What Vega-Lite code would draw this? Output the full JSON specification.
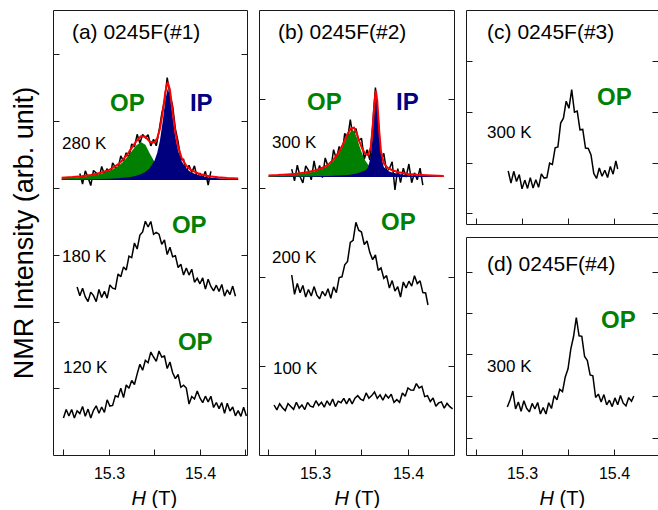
{
  "$schema": "https://vega.github.io/schema/vega-lite/v6.json",
  "autosize": {"type": "pad"},
  "padding": {"left": 10, "top": 10, "right": 0, "bottom": 0},
  "background": "white",
  "config": {
    "view": {"stroke": null},
    "font": "Liberation Sans",
    "line": {"strokeJoin": "miter", "strokeMiterLimit": 2},
    "axis": {
      "grid": false, "domainColor": "#1a1a1a", "domainWidth": 1, "tickColor": "#1a1a1a", "tickWidth": 1,
      "tickSize": -6, "labelFont": "Liberation Sans", "labelFontSize": 16, "labelColor": "#000",
      "labelPadding": 16, "labelOverlap": false, "labelFlush": false,
      "titleFont": "Liberation Sans", "titleFontWeight": "normal", "titleColor": "#000", "titleFontSize": 20
    },
    "style": {
      "tag": {"fontSize": 17, "align": "left", "baseline": "middle", "font": "Liberation Sans"},
      "hd": {"fontSize": 21, "align": "left", "baseline": "middle", "font": "Liberation Sans"},
      "big": {"fontSize": 24, "fontWeight": "bold", "align": "left", "baseline": "middle", "font": "Liberation Sans"}
    }
  },
  "datasets": {
    "spA": [
      {"T":"280","h":15.268,"v":28.15},{"T":"280","h":15.271,"v":27.1},{"T":"280","h":15.274,"v":28.42},{"T":"280","h":15.277,"v":27.76},{"T":"280","h":15.280,"v":26.95},{"T":"280","h":15.283,"v":28.45},{"T":"280","h":15.286,"v":28.21},{"T":"280","h":15.289,"v":27.67},{"T":"280","h":15.292,"v":28.85},{"T":"280","h":15.295,"v":28.04},{"T":"280","h":15.298,"v":28.64},{"T":"280","h":15.301,"v":27.7},{"T":"280","h":15.304,"v":29.22},{"T":"280","h":15.307,"v":28.79},{"T":"280","h":15.310,"v":28.66},{"T":"280","h":15.313,"v":29.92},{"T":"280","h":15.316,"v":29.39},{"T":"280","h":15.319,"v":30.22},{"T":"280","h":15.322,"v":29.76},{"T":"280","h":15.325,"v":31.11},{"T":"280","h":15.328,"v":30.81},{"T":"280","h":15.331,"v":32.07},{"T":"280","h":15.334,"v":31.17},{"T":"280","h":15.337,"v":32.05},{"T":"280","h":15.340,"v":31.72},{"T":"280","h":15.343,"v":32.03},{"T":"280","h":15.346,"v":30.91},{"T":"280","h":15.349,"v":31.56},{"T":"280","h":15.352,"v":30.92},{"T":"280","h":15.355,"v":32.4},{"T":"280","h":15.358,"v":34.1},{"T":"280","h":15.361,"v":35.4},{"T":"280","h":15.364,"v":37.75},{"T":"280","h":15.367,"v":36.03},{"T":"280","h":15.370,"v":34.89},{"T":"280","h":15.373,"v":32.6},{"T":"280","h":15.376,"v":31.31},{"T":"280","h":15.379,"v":29.55},{"T":"280","h":15.382,"v":29.58},{"T":"280","h":15.385,"v":28.32},{"T":"280","h":15.388,"v":28.97},{"T":"280","h":15.391,"v":28.26},{"T":"280","h":15.394,"v":28.91},{"T":"280","h":15.397,"v":27.69},{"T":"280","h":15.400,"v":28.18},{"T":"280","h":15.403,"v":27.72},{"T":"280","h":15.406,"v":28.36},{"T":"280","h":15.409,"v":27.0},{"T":"280","h":15.412,"v":28.36},
      {"T":"180","h":15.265,"v":16.8},{"T":"180","h":15.268,"v":15.93},{"T":"180","h":15.271,"v":16.67},{"T":"180","h":15.274,"v":15.8},{"T":"180","h":15.277,"v":15.35},{"T":"180","h":15.280,"v":16.29},{"T":"180","h":15.283,"v":15.94},{"T":"180","h":15.286,"v":15.34},{"T":"180","h":15.289,"v":16.55},{"T":"180","h":15.292,"v":15.75},{"T":"180","h":15.295,"v":16.36},{"T":"180","h":15.298,"v":15.69},{"T":"180","h":15.301,"v":17.0},{"T":"180","h":15.304,"v":16.68},{"T":"180","h":15.307,"v":16.6},{"T":"180","h":15.310,"v":18.11},{"T":"180","h":15.313,"v":17.83},{"T":"180","h":15.316,"v":18.81},{"T":"180","h":15.319,"v":18.49},{"T":"180","h":15.322,"v":19.89},{"T":"180","h":15.325,"v":19.74},{"T":"180","h":15.328,"v":21.2},{"T":"180","h":15.331,"v":20.6},{"T":"180","h":15.334,"v":22.0},{"T":"180","h":15.337,"v":22.3},{"T":"180","h":15.340,"v":23.37},{"T":"180","h":15.343,"v":22.8},{"T":"180","h":15.346,"v":23.35},{"T":"180","h":15.349,"v":22.07},{"T":"180","h":15.352,"v":22.27},{"T":"180","h":15.355,"v":22.09},{"T":"180","h":15.358,"v":21.07},{"T":"180","h":15.361,"v":21.5},{"T":"180","h":15.364,"v":20.04},{"T":"180","h":15.367,"v":20.78},{"T":"180","h":15.370,"v":19.82},{"T":"180","h":15.373,"v":19.93},{"T":"180","h":15.376,"v":18.75},{"T":"180","h":15.379,"v":19.07},{"T":"180","h":15.382,"v":17.99},{"T":"180","h":15.385,"v":18.7},{"T":"180","h":15.388,"v":17.99},{"T":"180","h":15.391,"v":18.58},{"T":"180","h":15.394,"v":17.28},{"T":"180","h":15.397,"v":17.67},{"T":"180","h":15.400,"v":17.12},{"T":"180","h":15.403,"v":17.71},{"T":"180","h":15.406,"v":16.59},{"T":"180","h":15.409,"v":17.58},{"T":"180","h":15.412,"v":16.85},{"T":"180","h":15.415,"v":16.42},{"T":"180","h":15.418,"v":16.98},{"T":"180","h":15.421,"v":16.35},{"T":"180","h":15.424,"v":17.06},{"T":"180","h":15.427,"v":15.89},{"T":"180","h":15.430,"v":16.52},{"T":"180","h":15.433,"v":16.04},{"T":"180","h":15.436,"v":16.89},{"T":"180","h":15.439,"v":15.87},
      {"T":"120","h":15.250,"v":3.7},{"T":"120","h":15.253,"v":4.55},{"T":"120","h":15.256,"v":3.9},{"T":"120","h":15.259,"v":4.55},{"T":"120","h":15.262,"v":3.7},{"T":"120","h":15.265,"v":4.42},{"T":"120","h":15.268,"v":4.14},{"T":"120","h":15.271,"v":4.85},{"T":"120","h":15.274,"v":3.87},{"T":"120","h":15.277,"v":4.59},{"T":"120","h":15.280,"v":3.7},{"T":"120","h":15.283,"v":4.47},{"T":"120","h":15.286,"v":4.92},{"T":"120","h":15.289,"v":4.18},{"T":"120","h":15.292,"v":4.8},{"T":"120","h":15.295,"v":4.26},{"T":"120","h":15.298,"v":5.52},{"T":"120","h":15.301,"v":4.89},{"T":"120","h":15.304,"v":4.96},{"T":"120","h":15.307,"v":5.93},{"T":"120","h":15.310,"v":5.8},{"T":"120","h":15.313,"v":6.67},{"T":"120","h":15.316,"v":5.74},{"T":"120","h":15.319,"v":7.0},{"T":"120","h":15.322,"v":6.67},{"T":"120","h":15.325,"v":7.45},{"T":"120","h":15.328,"v":7.05},{"T":"120","h":15.331,"v":8.11},{"T":"120","h":15.334,"v":9.08},{"T":"120","h":15.337,"v":8.48},{"T":"120","h":15.340,"v":9.46},{"T":"120","h":15.343,"v":9.23},{"T":"120","h":15.346,"v":10.3},{"T":"120","h":15.349,"v":9.8},{"T":"120","h":15.352,"v":9.36},{"T":"120","h":15.355,"v":10.4},{"T":"120","h":15.358,"v":9.8},{"T":"120","h":15.361,"v":9.9},{"T":"120","h":15.364,"v":8.65},{"T":"120","h":15.367,"v":9.3},{"T":"120","h":15.370,"v":8.23},{"T":"120","h":15.373,"v":7.64},{"T":"120","h":15.376,"v":8.05},{"T":"120","h":15.379,"v":6.77},{"T":"120","h":15.382,"v":6.98},{"T":"120","h":15.385,"v":6.7},{"T":"120","h":15.388,"v":5.1},{"T":"120","h":15.391,"v":5.85},{"T":"120","h":15.394,"v":5.6},{"T":"120","h":15.397,"v":6.4},{"T":"120","h":15.400,"v":5.7},{"T":"120","h":15.403,"v":5.24},{"T":"120","h":15.406,"v":5.88},{"T":"120","h":15.409,"v":5.32},{"T":"120","h":15.412,"v":5.87},{"T":"120","h":15.415,"v":4.75},{"T":"120","h":15.418,"v":5.25},{"T":"120","h":15.421,"v":4.64},{"T":"120","h":15.424,"v":5.24},{"T":"120","h":15.427,"v":4.16},{"T":"120","h":15.430,"v":5.18},{"T":"120","h":15.433,"v":4.4},{"T":"120","h":15.436,"v":4.8},{"T":"120","h":15.439,"v":3.92},{"T":"120","h":15.442,"v":4.44},{"T":"120","h":15.445,"v":3.86},{"T":"120","h":15.448,"v":4.77},{"T":"120","h":15.451,"v":3.9}
    ],
    "fitA": [
      {"h":15.248,"op":27.68,"ip":27.54,"sum":27.72},{"h":15.26,"op":27.74,"ip":27.55,"sum":27.79},{"h":15.27,"op":27.81,"ip":27.56,"sum":27.87},{"h":15.28,"op":27.92,"ip":27.58,"sum":28.0},{"h":15.29,"op":28.09,"ip":27.6,"sum":28.19},{"h":15.3,"op":28.37,"ip":27.63,"sum":28.5},{"h":15.31,"op":28.88,"ip":27.68,"sum":29.06},{"h":15.315,"op":29.27,"ip":27.72,"sum":29.49},{"h":15.32,"op":29.77,"ip":27.76,"sum":30.03},{"h":15.325,"op":30.38,"ip":27.83,"sum":30.71},{"h":15.33,"op":30.95,"ip":27.92,"sum":31.37},{"h":15.335,"op":31.3,"ip":28.07,"sum":31.87},{"h":15.34,"op":31.02,"ip":28.3,"sum":31.82},{"h":15.345,"op":30.13,"ip":28.7,"sum":31.33},{"h":15.35,"op":29.32,"ip":29.43,"sum":31.25},{"h":15.353,"op":28.96,"ip":30.2,"sum":31.66},{"h":15.356,"op":28.67,"ip":31.45,"sum":32.62},{"h":15.359,"op":28.45,"ip":33.3,"sum":34.25},{"h":15.362,"op":28.29,"ip":35.52,"sum":36.31},{"h":15.3645,"op":28.18,"ip":36.62,"sum":37.3},{"h":15.367,"op":28.09,"ip":35.94,"sum":36.53},{"h":15.37,"op":28.0,"ip":33.79,"sum":34.29},{"h":15.373,"op":27.93,"ip":31.8,"sum":32.23},{"h":15.376,"op":27.88,"ip":30.43,"sum":30.81},{"h":15.38,"op":27.82,"ip":29.36,"sum":29.68},{"h":15.385,"op":27.76,"ip":28.66,"sum":28.92},{"h":15.39,"op":27.72,"ip":28.28,"sum":28.5},{"h":15.4,"op":27.66,"ip":27.92,"sum":28.08},{"h":15.41,"op":27.62,"ip":27.76,"sum":27.88},{"h":15.42,"op":27.59,"ip":27.68,"sum":27.77},{"h":15.43,"op":27.58,"ip":27.63,"sum":27.7},{"h":15.442,"op":27.56,"ip":27.59,"sum":27.65}
    ],
    "spB": [
      {"T":"300","h":15.275,"v":28.59},{"T":"300","h":15.278,"v":27.41},{"T":"300","h":15.281,"v":28.98},{"T":"300","h":15.284,"v":27.83},{"T":"300","h":15.287,"v":27.2},{"T":"300","h":15.290,"v":28.92},{"T":"300","h":15.293,"v":28.47},{"T":"300","h":15.296,"v":27.51},{"T":"300","h":15.299,"v":29.42},{"T":"300","h":15.302,"v":28.01},{"T":"300","h":15.305,"v":28.96},{"T":"300","h":15.308,"v":27.73},{"T":"300","h":15.311,"v":29.71},{"T":"300","h":15.314,"v":28.87},{"T":"300","h":15.317,"v":28.57},{"T":"300","h":15.320,"v":30.54},{"T":"300","h":15.323,"v":29.58},{"T":"300","h":15.326,"v":30.86},{"T":"300","h":15.329,"v":30.03},{"T":"300","h":15.332,"v":32.16},{"T":"300","h":15.335,"v":31.6},{"T":"300","h":15.338,"v":33.53},{"T":"300","h":15.341,"v":31.71},{"T":"300","h":15.344,"v":32.66},{"T":"300","h":15.347,"v":31.4},{"T":"300","h":15.350,"v":31.68},{"T":"300","h":15.353,"v":29.58},{"T":"300","h":15.356,"v":30.53},{"T":"300","h":15.359,"v":29.5},{"T":"300","h":15.362,"v":32.88},{"T":"300","h":15.365,"v":36.75},{"T":"300","h":15.368,"v":33.6},{"T":"300","h":15.371,"v":29.49},{"T":"300","h":15.374,"v":30.17},{"T":"300","h":15.377,"v":28.34},{"T":"300","h":15.380,"v":28.63},{"T":"300","h":15.383,"v":29.33},{"T":"300","h":15.386,"v":26.5},{"T":"300","h":15.389,"v":28.64},{"T":"300","h":15.392,"v":27.24},{"T":"300","h":15.395,"v":28.69},{"T":"300","h":15.398,"v":27.8},{"T":"300","h":15.401,"v":29.1},{"T":"300","h":15.404,"v":27.23},{"T":"300","h":15.407,"v":28.21},{"T":"300","h":15.410,"v":27.52},{"T":"300","h":15.413,"v":28.68},{"T":"300","h":15.416,"v":26.99},
      {"T":"200","h":15.275,"v":18.0},{"T":"200","h":15.278,"v":16.07},{"T":"200","h":15.281,"v":17.15},{"T":"200","h":15.284,"v":16.22},{"T":"200","h":15.287,"v":16.96},{"T":"200","h":15.290,"v":15.8},{"T":"200","h":15.293,"v":16.55},{"T":"200","h":15.296,"v":15.9},{"T":"200","h":15.299,"v":16.84},{"T":"200","h":15.302,"v":15.99},{"T":"200","h":15.305,"v":15.63},{"T":"200","h":15.308,"v":16.37},{"T":"200","h":15.311,"v":15.91},{"T":"200","h":15.314,"v":16.63},{"T":"200","h":15.317,"v":15.67},{"T":"200","h":15.320,"v":16.81},{"T":"200","h":15.323,"v":16.24},{"T":"200","h":15.326,"v":17.74},{"T":"200","h":15.329,"v":17.82},{"T":"200","h":15.332,"v":19.02},{"T":"200","h":15.335,"v":19.36},{"T":"200","h":15.338,"v":21.27},{"T":"200","h":15.341,"v":21.47},{"T":"200","h":15.344,"v":23.27},{"T":"200","h":15.347,"v":22.48},{"T":"200","h":15.350,"v":22.3},{"T":"200","h":15.353,"v":21.05},{"T":"200","h":15.356,"v":21.4},{"T":"200","h":15.359,"v":20.24},{"T":"200","h":15.362,"v":19.54},{"T":"200","h":15.365,"v":20.0},{"T":"200","h":15.368,"v":18.46},{"T":"200","h":15.371,"v":18.71},{"T":"200","h":15.374,"v":17.67},{"T":"200","h":15.377,"v":17.94},{"T":"200","h":15.380,"v":16.69},{"T":"200","h":15.383,"v":17.44},{"T":"200","h":15.386,"v":16.39},{"T":"200","h":15.389,"v":16.83},{"T":"200","h":15.392,"v":15.8},{"T":"200","h":15.395,"v":17.3},{"T":"200","h":15.398,"v":16.7},{"T":"200","h":15.401,"v":17.38},{"T":"200","h":15.404,"v":16.89},{"T":"200","h":15.407,"v":17.92},{"T":"200","h":15.410,"v":17.14},{"T":"200","h":15.413,"v":17.41},{"T":"200","h":15.416,"v":16.24},{"T":"200","h":15.419,"v":16.2},{"T":"200","h":15.4215,"v":15.0},
      {"T":"100","h":15.256,"v":5.0},{"T":"100","h":15.259,"v":4.51},{"T":"100","h":15.262,"v":5.12},{"T":"100","h":15.265,"v":4.73},{"T":"100","h":15.268,"v":4.44},{"T":"100","h":15.271,"v":5.15},{"T":"100","h":15.274,"v":4.86},{"T":"100","h":15.277,"v":4.57},{"T":"100","h":15.280,"v":5.28},{"T":"100","h":15.283,"v":4.69},{"T":"100","h":15.286,"v":5.01},{"T":"100","h":15.289,"v":4.54},{"T":"100","h":15.292,"v":5.26},{"T":"100","h":15.295,"v":4.88},{"T":"100","h":15.298,"v":4.8},{"T":"100","h":15.301,"v":5.43},{"T":"100","h":15.304,"v":4.95},{"T":"100","h":15.307,"v":5.27},{"T":"100","h":15.310,"v":4.79},{"T":"100","h":15.313,"v":5.42},{"T":"100","h":15.316,"v":4.96},{"T":"100","h":15.319,"v":5.6},{"T":"100","h":15.322,"v":4.84},{"T":"100","h":15.325,"v":5.38},{"T":"100","h":15.328,"v":5.23},{"T":"100","h":15.331,"v":5.67},{"T":"100","h":15.334,"v":5.11},{"T":"100","h":15.337,"v":5.67},{"T":"100","h":15.340,"v":5.12},{"T":"100","h":15.343,"v":5.68},{"T":"100","h":15.346,"v":5.93},{"T":"100","h":15.349,"v":5.59},{"T":"100","h":15.352,"v":5.45},{"T":"100","h":15.355,"v":6.21},{"T":"100","h":15.358,"v":5.68},{"T":"100","h":15.361,"v":5.94},{"T":"100","h":15.364,"v":6.3},{"T":"100","h":15.367,"v":5.66},{"T":"100","h":15.370,"v":6.02},{"T":"100","h":15.373,"v":5.48},{"T":"100","h":15.376,"v":6.03},{"T":"100","h":15.379,"v":5.69},{"T":"100","h":15.382,"v":6.07},{"T":"100","h":15.385,"v":5.26},{"T":"100","h":15.388,"v":5.54},{"T":"100","h":15.391,"v":5.26},{"T":"100","h":15.394,"v":6.2},{"T":"100","h":15.397,"v":5.87},{"T":"100","h":15.400,"v":6.7},{"T":"100","h":15.403,"v":6.49},{"T":"100","h":15.406,"v":6.47},{"T":"100","h":15.409,"v":7.14},{"T":"100","h":15.412,"v":6.71},{"T":"100","h":15.415,"v":6.86},{"T":"100","h":15.418,"v":5.84},{"T":"100","h":15.421,"v":5.93},{"T":"100","h":15.424,"v":5.35},{"T":"100","h":15.427,"v":5.7},{"T":"100","h":15.430,"v":4.87},{"T":"100","h":15.433,"v":5.21},{"T":"100","h":15.436,"v":5.3},{"T":"100","h":15.439,"v":4.68},{"T":"100","h":15.442,"v":5.16},{"T":"100","h":15.445,"v":4.83},{"T":"100","h":15.448,"v":4.61}
    ],
    "fitB": [
      {"h":15.25,"op":27.93,"ip":27.83,"sum":27.96},{"h":15.26,"op":27.96,"ip":27.84,"sum":27.99},{"h":15.27,"op":28.0,"ip":27.85,"sum":28.05},{"h":15.28,"op":28.07,"ip":27.85,"sum":28.12},{"h":15.29,"op":28.18,"ip":27.86,"sum":28.24},{"h":15.3,"op":28.36,"ip":27.88,"sum":28.44},{"h":15.31,"op":28.7,"ip":27.9,"sum":28.8},{"h":15.315,"op":28.99,"ip":27.91,"sum":29.1},{"h":15.32,"op":29.41,"ip":27.93,"sum":29.54},{"h":15.325,"op":30.04,"ip":27.94,"sum":30.18},{"h":15.33,"op":30.89,"ip":27.97,"sum":31.06},{"h":15.335,"op":31.89,"ip":28.01,"sum":32.1},{"h":15.339,"op":32.43,"ip":28.05,"sum":32.68},{"h":15.342,"op":32.43,"ip":28.1,"sum":32.73},{"h":15.345,"op":31.76,"ip":28.16,"sum":32.12},{"h":15.348,"op":30.86,"ip":28.24,"sum":31.3},{"h":15.351,"op":30.05,"ip":28.34,"sum":30.59},{"h":15.354,"op":29.46,"ip":28.46,"sum":30.12},{"h":15.357,"op":29.04,"ip":28.75,"sum":29.99},{"h":15.36,"op":28.76,"ip":29.8,"sum":30.76},{"h":15.362,"op":28.61,"ip":31.9,"sum":32.71},{"h":15.364,"op":28.5,"ip":34.6,"sum":35.3},{"h":15.3655,"op":28.43,"ip":35.8,"sum":36.43},{"h":15.367,"op":28.37,"ip":34.8,"sum":35.37},{"h":15.369,"op":28.3,"ip":32.0,"sum":32.5},{"h":15.371,"op":28.24,"ip":29.9,"sum":30.34},{"h":15.374,"op":28.17,"ip":28.8,"sum":29.17},{"h":15.378,"op":28.1,"ip":28.43,"sum":28.73},{"h":15.383,"op":28.04,"ip":28.24,"sum":28.48},{"h":15.39,"op":27.98,"ip":28.1,"sum":28.28},{"h":15.4,"op":27.92,"ip":27.98,"sum":28.1},{"h":15.41,"op":27.89,"ip":27.93,"sum":28.02},{"h":15.42,"op":27.87,"ip":27.9,"sum":27.97},{"h":15.4385,"op":27.85,"ip":27.86,"sum":27.91}
    ],
    "spC": [
      {"T":"300","h":15.285,"v":5.3},{"T":"300","h":15.288,"v":4.08},{"T":"300","h":15.291,"v":5.27},{"T":"300","h":15.294,"v":4.25},{"T":"300","h":15.297,"v":4.94},{"T":"300","h":15.300,"v":3.51},{"T":"300","h":15.303,"v":4.39},{"T":"300","h":15.306,"v":3.56},{"T":"300","h":15.309,"v":4.64},{"T":"300","h":15.312,"v":3.59},{"T":"300","h":15.315,"v":4.43},{"T":"300","h":15.318,"v":3.67},{"T":"300","h":15.321,"v":5.02},{"T":"300","h":15.324,"v":4.59},{"T":"300","h":15.327,"v":4.64},{"T":"300","h":15.330,"v":6.08},{"T":"300","h":15.333,"v":5.95},{"T":"300","h":15.336,"v":7.62},{"T":"300","h":15.339,"v":7.71},{"T":"300","h":15.342,"v":10.09},{"T":"300","h":15.345,"v":10.58},{"T":"300","h":15.348,"v":12.28},{"T":"300","h":15.351,"v":11.57},{"T":"300","h":15.354,"v":13.44},{"T":"300","h":15.357,"v":11.18},{"T":"300","h":15.360,"v":11.29},{"T":"300","h":15.363,"v":9.42},{"T":"300","h":15.366,"v":9.46},{"T":"300","h":15.369,"v":7.59},{"T":"300","h":15.372,"v":7.56},{"T":"300","h":15.375,"v":6.9},{"T":"300","h":15.378,"v":5.06},{"T":"300","h":15.381,"v":4.55},{"T":"300","h":15.384,"v":5.6},{"T":"300","h":15.387,"v":4.78},{"T":"300","h":15.390,"v":5.37},{"T":"300","h":15.393,"v":4.65},{"T":"300","h":15.396,"v":5.76},{"T":"300","h":15.399,"v":4.98},{"T":"300","h":15.402,"v":6.32},{"T":"300","h":15.404,"v":5.5}
    ],
    "spD": [
      {"T":"300","h":15.284,"v":4.8},{"T":"300","h":15.287,"v":5.5},{"T":"300","h":15.290,"v":6.4},{"T":"300","h":15.293,"v":4.6},{"T":"300","h":15.296,"v":5.3},{"T":"300","h":15.299,"v":4.38},{"T":"300","h":15.302,"v":5.42},{"T":"300","h":15.305,"v":4.67},{"T":"300","h":15.308,"v":4.31},{"T":"300","h":15.311,"v":5.16},{"T":"300","h":15.314,"v":4.6},{"T":"300","h":15.317,"v":5.25},{"T":"300","h":15.320,"v":4.1},{"T":"300","h":15.323,"v":4.75},{"T":"300","h":15.326,"v":4.1},{"T":"300","h":15.329,"v":5.23},{"T":"300","h":15.332,"v":4.65},{"T":"300","h":15.335,"v":5.93},{"T":"300","h":15.338,"v":5.52},{"T":"300","h":15.341,"v":6.57},{"T":"300","h":15.344,"v":6.34},{"T":"300","h":15.347,"v":7.81},{"T":"300","h":15.350,"v":8.62},{"T":"300","h":15.353,"v":10.58},{"T":"300","h":15.356,"v":11.85},{"T":"300","h":15.359,"v":13.75},{"T":"300","h":15.362,"v":11.92},{"T":"300","h":15.365,"v":11.87},{"T":"300","h":15.368,"v":9.85},{"T":"300","h":15.371,"v":9.44},{"T":"300","h":15.374,"v":8.0},{"T":"300","h":15.377,"v":7.92},{"T":"300","h":15.380,"v":5.75},{"T":"300","h":15.383,"v":6.09},{"T":"300","h":15.386,"v":5.29},{"T":"300","h":15.389,"v":6.04},{"T":"300","h":15.392,"v":5.01},{"T":"300","h":15.395,"v":5.48},{"T":"300","h":15.398,"v":4.84},{"T":"300","h":15.401,"v":5.71},{"T":"300","h":15.404,"v":5.02},{"T":"300","h":15.407,"v":5.95},{"T":"300","h":15.410,"v":5.18},{"T":"300","h":15.413,"v":4.91},{"T":"300","h":15.416,"v":5.74},{"T":"300","h":15.419,"v":5.37},{"T":"300","h":15.4215,"v":5.9}
    ]
  },
  "hconcat": [
    {
      "width": 194, "height": 445,
      "layer": [
        {
          "layer": [
            {
              "data": {"name": "spA"},
              "mark": {"type": "line", "color": "#000", "strokeWidth": 1.5},
              "encoding": {
                "x": {"field": "h", "type": "quantitative", "scale": {"domain": [15.2385, 15.4517], "nice": false, "zero": false},
                  "axis": {"values": [15.25, 15.3, 15.35, 15.4, 15.45], "format": ".1f", "labelExpr": "datum.value == 15.3 || datum.value == 15.4 ? datum.label : ''", "title": "(T)", "titleX": 98, "titleY": 49, "titleAlign": "left", "titleBaseline": "alphabetic"}},
                "y": {"field": "v", "type": "quantitative", "scale": {"domain": [0, 44.5], "nice": false, "zero": false},
                  "axis": {"values": [6.7, 13.35, 20, 26.7, 33.4, 40.1], "labels": false, "title": "NMR Intensity (arb. unit)", "titleFontSize": 27, "titlePadding": 14}},
                "detail": {"field": "T"}
              }
            },
            {
              "data": {"name": "fitA"},
              "mark": {"type": "area", "color": "#007f00"},
              "encoding": {"x": {"field": "h", "type": "quantitative"}, "y": {"field": "op", "type": "quantitative"}, "y2": {"datum": 27.5}}
            },
            {
              "data": {"name": "fitA"},
              "mark": {"type": "area", "color": "#00007f"},
              "encoding": {"x": {"field": "h", "type": "quantitative"}, "y": {"field": "ip", "type": "quantitative"}, "y2": {"datum": 27.5}}
            },
            {
              "data": {"name": "fitA"},
              "mark": {"type": "line", "color": "#ff0000", "strokeWidth": 2},
              "encoding": {"x": {"field": "h", "type": "quantitative"}, "y": {"field": "sum", "type": "quantitative"}}
            },
            {"data": {"values": [{}]}, "mark": {"type": "text", "style": "hd", "text": "(a) 0245F(#1)"}, "encoding": {"x": {"datum": 15.2593}, "y": {"datum": 42.2}}},
            {"data": {"values": [{}]}, "mark": {"type": "text", "style": "tag", "text": "280 K"}, "encoding": {"x": {"datum": 15.2484}, "y": {"datum": 31.1}}},
            {"data": {"values": [{}]}, "mark": {"type": "text", "style": "tag", "text": "180 K"}, "encoding": {"x": {"datum": 15.2484}, "y": {"datum": 19.8}}},
            {"data": {"values": [{}]}, "mark": {"type": "text", "style": "tag", "text": "120 K"}, "encoding": {"x": {"datum": 15.2495}, "y": {"datum": 8.7}}},
            {"data": {"values": [{}]}, "mark": {"type": "text", "style": "big", "text": "OP", "color": "#008000"}, "encoding": {"x": {"datum": 15.3011}, "y": {"datum": 35.1}}},
            {"data": {"values": [{}]}, "mark": {"type": "text", "style": "big", "text": "IP", "color": "#000080"}, "encoding": {"x": {"datum": 15.389}, "y": {"datum": 35.1}}},
            {"data": {"values": [{}]}, "mark": {"type": "text", "style": "big", "text": "OP", "color": "#008000"}, "encoding": {"x": {"datum": 15.3692}, "y": {"datum": 22.9}}},
            {"data": {"values": [{}]}, "mark": {"type": "text", "style": "big", "text": "OP", "color": "#008000"}, "encoding": {"x": {"datum": 15.3758}, "y": {"datum": 11.2}}}
          ]
        },
        {
          "data": {"values": [{}]},
          "mark": {"type": "point", "opacity": 0},
          "encoding": {
            "x": {"datum": 15.3, "type": "quantitative", "axis": {"orient": "top", "ticks": false, "labels": false, "title": "H", "titleFontStyle": "italic", "titleX": 78, "titleY": 494, "titleAlign": "left", "titleBaseline": "alphabetic"}},
            "y": {"datum": 20, "type": "quantitative", "axis": {"orient": "right", "values": [6.7, 13.35, 20, 26.7, 33.4, 40.1], "labels": false, "title": null}}
          }
        }
      ],
      "resolve": {"axis": {"x": "independent", "y": "independent"}}
    },
    {
      "width": 195, "height": 445,
      "layer": [
        {
          "layer": [
            {
              "data": {"name": "spB"},
              "mark": {"type": "line", "color": "#000", "strokeWidth": 1.5},
              "encoding": {
                "x": {"field": "h", "type": "quantitative", "scale": {"domain": [15.2398, 15.4495], "nice": false, "zero": false},
                  "axis": {"values": [15.25, 15.3, 15.35, 15.4], "format": ".1f", "labelExpr": "datum.value == 15.3 || datum.value == 15.4 ? datum.label : ''", "title": "(T)", "titleX": 95, "titleY": 49, "titleAlign": "left", "titleBaseline": "alphabetic"}},
                "y": {"field": "v", "type": "quantitative", "scale": {"domain": [0, 44.5], "nice": false, "zero": false},
                  "axis": {"values": [8.9, 17.8, 26.7, 35.6], "labels": false, "title": null}},
                "detail": {"field": "T"}
              }
            },
            {
              "data": {"name": "fitB"},
              "mark": {"type": "area", "color": "#007f00"},
              "encoding": {"x": {"field": "h", "type": "quantitative"}, "y": {"field": "op", "type": "quantitative"}, "y2": {"datum": 27.8}}
            },
            {
              "data": {"name": "fitB"},
              "mark": {"type": "area", "color": "#00007f"},
              "encoding": {"x": {"field": "h", "type": "quantitative"}, "y": {"field": "ip", "type": "quantitative"}, "y2": {"datum": 27.8}}
            },
            {
              "data": {"name": "fitB"},
              "mark": {"type": "line", "color": "#ff0000", "strokeWidth": 2},
              "encoding": {"x": {"field": "h", "type": "quantitative"}, "y": {"field": "sum", "type": "quantitative"}}
            },
            {"data": {"values": [{}]}, "mark": {"type": "text", "style": "hd", "text": "(b) 0245F(#2)"}, "encoding": {"x": {"datum": 15.2602}, "y": {"datum": 42.2}}},
            {"data": {"values": [{}]}, "mark": {"type": "text", "style": "tag", "text": "300 K"}, "encoding": {"x": {"datum": 15.2538}, "y": {"datum": 31.2}}},
            {"data": {"values": [{}]}, "mark": {"type": "text", "style": "tag", "text": "200 K"}, "encoding": {"x": {"datum": 15.2538}, "y": {"datum": 19.7}}},
            {"data": {"values": [{}]}, "mark": {"type": "text", "style": "tag", "text": "100 K"}, "encoding": {"x": {"datum": 15.2548}, "y": {"datum": 8.6}}},
            {"data": {"values": [{}]}, "mark": {"type": "text", "style": "big", "text": "OP", "color": "#008000"}, "encoding": {"x": {"datum": 15.2914}, "y": {"datum": 35.2}}},
            {"data": {"values": [{}]}, "mark": {"type": "text", "style": "big", "text": "IP", "color": "#000080"}, "encoding": {"x": {"datum": 15.3871}, "y": {"datum": 35.2}}},
            {"data": {"values": [{}]}, "mark": {"type": "text", "style": "big", "text": "OP", "color": "#008000"}, "encoding": {"x": {"datum": 15.371}, "y": {"datum": 23.2}}}
          ]
        },
        {
          "data": {"values": [{}]},
          "mark": {"type": "point", "opacity": 0},
          "encoding": {
            "x": {"datum": 15.3, "type": "quantitative", "axis": {"orient": "top", "ticks": false, "labels": false, "title": "H", "titleFontStyle": "italic", "titleX": 75, "titleY": 494, "titleAlign": "left", "titleBaseline": "alphabetic"}},
            "y": {"datum": 20, "type": "quantitative", "axis": {"orient": "right", "values": [8.9, 17.8, 26.7, 35.6], "labels": false, "title": null}}
          }
        }
      ],
      "resolve": {"axis": {"x": "independent", "y": "independent"}}
    },
    {
      "vconcat": [
        {
          "width": 192, "height": 214,
          "layer": [
            {
              "layer": [
                {
                  "data": {"name": "spC"},
                  "mark": {"type": "line", "color": "#000", "strokeWidth": 1.5},
                  "encoding": {
                    "x": {"field": "h", "type": "quantitative", "scale": {"domain": [15.2391, 15.4478], "nice": false, "zero": false},
                      "axis": {"values": [15.25, 15.3, 15.35, 15.4], "labels": false, "title": null}},
                    "y": {"field": "v", "type": "quantitative", "scale": {"domain": [0, 21.4], "nice": false, "zero": false},
                      "axis": {"values": [1.1, 6.1, 11.2, 16.3], "labels": false, "title": null}},
                    "detail": {"field": "T"}
                  }
                },
                {"data": {"values": [{}]}, "mark": {"type": "text", "style": "hd", "text": "(c) 0245F(#3)"}, "encoding": {"x": {"datum": 15.262}, "y": {"datum": 19.1}}},
                {"data": {"values": [{}]}, "mark": {"type": "text", "style": "tag", "text": "300 K"}, "encoding": {"x": {"datum": 15.262}, "y": {"datum": 9.1}}},
                {"data": {"values": [{}]}, "mark": {"type": "text", "style": "big", "text": "OP", "color": "#008000"}, "encoding": {"x": {"datum": 15.3815}, "y": {"datum": 12.6}}}
              ]
            },
            {
              "data": {"values": [{}]},
              "mark": {"type": "point", "opacity": 0},
              "encoding": {
                "x": {"datum": 15.3, "type": "quantitative", "axis": {"orient": "top", "ticks": false, "labels": false, "title": null}},
                "y": {"datum": 10, "type": "quantitative", "axis": {"orient": "right", "domain": false, "values": [1.1, 6.1, 11.2, 16.3], "labels": false, "title": null}}
              }
            }
          ],
          "resolve": {"axis": {"x": "independent", "y": "independent"}}
        },
        {
          "width": 192, "height": 218,
          "layer": [
            {
              "layer": [
                {
                  "data": {"name": "spD"},
                  "mark": {"type": "line", "color": "#000", "strokeWidth": 1.5},
                  "encoding": {
                    "x": {"field": "h", "type": "quantitative", "scale": {"domain": [15.2391, 15.4478], "nice": false, "zero": false},
                      "axis": {"values": [15.25, 15.3, 15.35, 15.4], "format": ".1f", "labelExpr": "datum.value == 15.3 || datum.value == 15.4 ? datum.label : ''", "title": "(T)", "titleX": 93, "titleY": 49, "titleAlign": "left", "titleBaseline": "alphabetic"}},
                    "y": {"field": "v", "type": "quantitative", "scale": {"domain": [0, 21.8], "nice": false, "zero": false},
                      "axis": {"values": [1.7, 5.9, 10.1, 14.2, 18.3], "labels": false, "title": null}},
                    "detail": {"field": "T"}
                  }
                },
                {"data": {"values": [{}]}, "mark": {"type": "text", "style": "hd", "text": "(d) 0245F(#4)"}, "encoding": {"x": {"datum": 15.262}, "y": {"datum": 19.0}}},
                {"data": {"values": [{}]}, "mark": {"type": "text", "style": "tag", "text": "300 K"}, "encoding": {"x": {"datum": 15.262}, "y": {"datum": 8.8}}},
                {"data": {"values": [{}]}, "mark": {"type": "text", "style": "big", "text": "OP", "color": "#008000"}, "encoding": {"x": {"datum": 15.3859}, "y": {"datum": 13.4}}}
              ]
            },
            {
              "data": {"values": [{}]},
              "mark": {"type": "point", "opacity": 0},
              "encoding": {
                "x": {"datum": 15.3, "type": "quantitative", "axis": {"orient": "top", "ticks": false, "labels": false, "title": "H", "titleFontStyle": "italic", "titleX": 73, "titleY": 267, "titleAlign": "left", "titleBaseline": "alphabetic"}},
                "y": {"datum": 10, "type": "quantitative", "axis": {"orient": "right", "domain": false, "values": [1.7, 5.9, 10.1, 14.2, 18.3], "labels": false, "title": null}}
              }
            }
          ],
          "resolve": {"axis": {"x": "independent", "y": "independent"}}
        }
      ],
      "spacing": 13,
      "bounds": "flush"
    }
  ],
  "spacing": 12,
  "bounds": "flush"
}
